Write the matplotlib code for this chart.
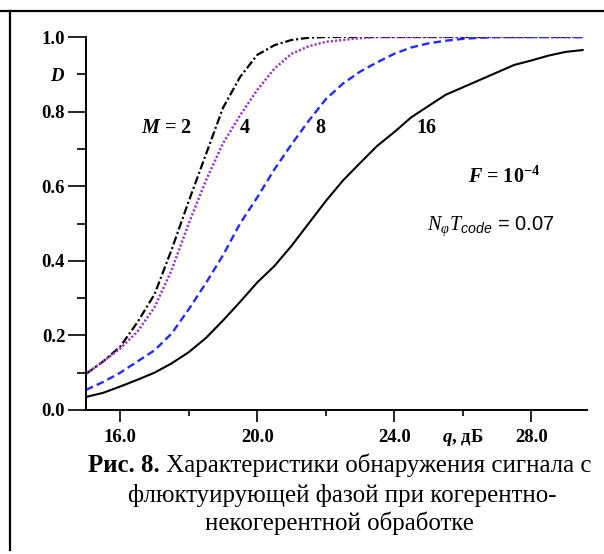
import matplotlib
matplotlib.use("Agg")
import matplotlib.pyplot as plt
from matplotlib.lines import Line2D
from matplotlib.ticker import FixedLocator, FixedFormatter

plt.rcParams["font.family"] = ["Liberation Serif", "DejaVu Sans"]
plt.rcParams["font.weight"] = "bold"
plt.rcParams["font.size"] = 13
plt.rcParams["mathtext.fontset"] = "custom"
plt.rcParams["mathtext.rm"] = "Liberation Serif:style=normal:weight=bold"
plt.rcParams["mathtext.it"] = "Liberation Serif:style=italic:weight=bold"
plt.rcParams["mathtext.bf"] = "Liberation Serif:style=italic:weight=normal"
plt.rcParams["mathtext.cal"] = "Liberation Sans:style=italic:weight=normal"
plt.rcParams["lines.scale_dashes"] = False

# signal-to-noise ratio, dB
q = [15.0, 15.5, 16.0, 16.5, 17.0, 17.5, 18.0, 18.5, 19.0, 19.5, 20.0, 20.5,
     21.0, 21.5, 22.0, 22.5, 23.0, 23.5, 24.0, 24.5, 25.0, 25.5, 26.0, 26.5,
     27.0, 27.5, 28.0, 28.5, 29.0, 29.5]

# detection probability D for M = 2, 4, 8, 16
d_m2 = [0.097, 0.13, 0.17, 0.235, 0.31, 0.43, 0.56, 0.685, 0.81, 0.893, 0.952, 0.978,
        0.992, 0.998, 1.0, 1.0, 1.0, 1.0, 1.0, 1.0, 1.0, 1.0, 1.0, 1.0,
        1.0, 1.0, 1.0, 1.0, 1.0, 1.0]
d_m4 = [0.097, 0.13, 0.165, 0.21, 0.275, 0.375, 0.50, 0.615, 0.715, 0.79, 0.858, 0.915,
        0.955, 0.975, 0.987, 0.992, 0.997, 1.0, 1.0, 1.0, 1.0, 1.0, 1.0, 1.0,
        1.0, 1.0, 1.0, 1.0, 1.0, 1.0]
d_m8 = [0.054, 0.075, 0.10, 0.13, 0.16, 0.205, 0.27, 0.34, 0.415, 0.50, 0.57, 0.645,
        0.712, 0.775, 0.833, 0.875, 0.907, 0.932, 0.955, 0.972, 0.983, 0.99, 0.995, 0.998,
        1.0, 1.0, 1.0, 1.0, 1.0, 1.0]
d_m16 = [0.035, 0.046, 0.063, 0.081, 0.10, 0.125, 0.155, 0.193, 0.24, 0.29, 0.342, 0.386,
         0.44, 0.50, 0.56, 0.615, 0.662, 0.708, 0.745, 0.785, 0.815, 0.845, 0.865, 0.885,
         0.905, 0.925, 0.937, 0.95, 0.96, 0.965]

x_major = [16.0, 20.0, 24.0, 28.0]
x_major_labels = ["16.0", "20.0", "24.0", "28.0"]
x_minor = [18.0, 22.0, 26.0]
x_minor_labels = ["", "", "$q$, дБ"]
y_major = [0.0, 0.2, 0.4, 0.6, 0.8, 1.0]
y_major_labels = ["0.0", "0.2", "0.4", "0.6", "0.8", "1.0"]
y_minor = [0.1, 0.3, 0.5, 0.7, 0.9]
y_minor_labels = ["", "", "", "", "$D$"]

caption_bold = "Рис. 8."
caption_lines = [" Характеристики обнаружения сигнала с",
                 "флюктуирующей фазой при когерентно-",
                 "некогерентной обработке"]

fig = plt.figure(figsize=(6.04, 5.54), dpi=100)
ax = fig.add_axes((86 / 604, 1 - 410 / 554, 501 / 604, 373 / 554))

ax.plot(q, d_m2, color="black", lw=1.6, dashes=(6, 2, 1.5, 2))
ax.plot(q, d_m4, color="#9a2fd6", lw=1.8, dashes=(1.5, 1.5))
ax.plot(q, d_m8, color="#1f2bff", lw=1.7, dashes=(5.5, 3))
ax.plot(q, d_m16, color="black", lw=1.5)

ax.set_xlim(15.0, 15.0 + 501 / 34.25)
ax.set_ylim(0.0, 1.0)
for side in ("top", "right"):
    ax.spines[side].set_visible(False)
for side in ("left", "bottom"):
    ax.spines[side].set_linewidth(1.4)

ax.xaxis.set_major_locator(FixedLocator(x_major))
ax.xaxis.set_major_formatter(FixedFormatter(x_major_labels))
ax.xaxis.set_minor_locator(FixedLocator(x_minor))
ax.xaxis.set_minor_formatter(FixedFormatter(x_minor_labels))
ax.yaxis.set_major_locator(FixedLocator(y_major))
ax.yaxis.set_major_formatter(FixedFormatter(y_major_labels))
ax.yaxis.set_minor_locator(FixedLocator(y_minor))
ax.yaxis.set_minor_formatter(FixedFormatter(y_minor_labels))

ax.tick_params(axis="x", which="major", length=8.5, width=1.2, pad=5, labelsize=13.5)
ax.tick_params(axis="x", which="minor", length=4.5, width=1.2, pad=8, labelsize=13.5)
ax.tick_params(axis="y", which="major", length=13, width=1.2, pad=2, labelsize=13.5)
ax.tick_params(axis="y", which="minor", length=6.5, width=1.2, pad=8.5, labelsize=13.5)

note = dict(family="Liberation Serif", weight="bold", size=14.5)
ax.text(16.6, 0.743, "$M$ = 2", **note)
ax.text(19.5, 0.743, "4", **note)
ax.text(21.7, 0.743, "8", **note)
ax.text(24.66, 0.743, "16", **note)
ax.text(26.15, 0.609, "$F$ = 10$^{-4}$", **note)
ax.text(24.97, 0.483, r"$\mathbf{N}_{\mathbf{\varphi}}\mathbf{T}_{\mathcal{code}}$ = 0.07",
        family="Liberation Sans", weight="normal", size=14.5)

# caption under the plot
cap = dict(family="Liberation Serif", size=17.9, color="black")
t1 = fig.text(88 / 604, 1 - 472 / 554, caption_bold, weight="bold", va="baseline", **cap)
fig.add_artist(plt.Annotation(caption_lines[0], xy=(1, 0), xycoords=t1,
                              va="bottom", ha="left", weight="normal", **cap))
fig.text(342 / 604, 1 - 502 / 554, caption_lines[1], ha="center", va="baseline",
         weight="normal", **cap)
fig.text(339 / 604, 1 - 530 / 554, caption_lines[2], ha="center", va="baseline",
         weight="normal", **cap)

# page frame lines
fig.add_artist(Line2D([0, 1], [1 - 11 / 554, 1 - 11 / 554], color="black", lw=1.6))
fig.add_artist(Line2D([10 / 604, 10 / 604], [1 - 11 / 554, 1 - 550 / 554],
                      color="black", lw=1.6))

fig.savefig("out.png", dpi=100)
